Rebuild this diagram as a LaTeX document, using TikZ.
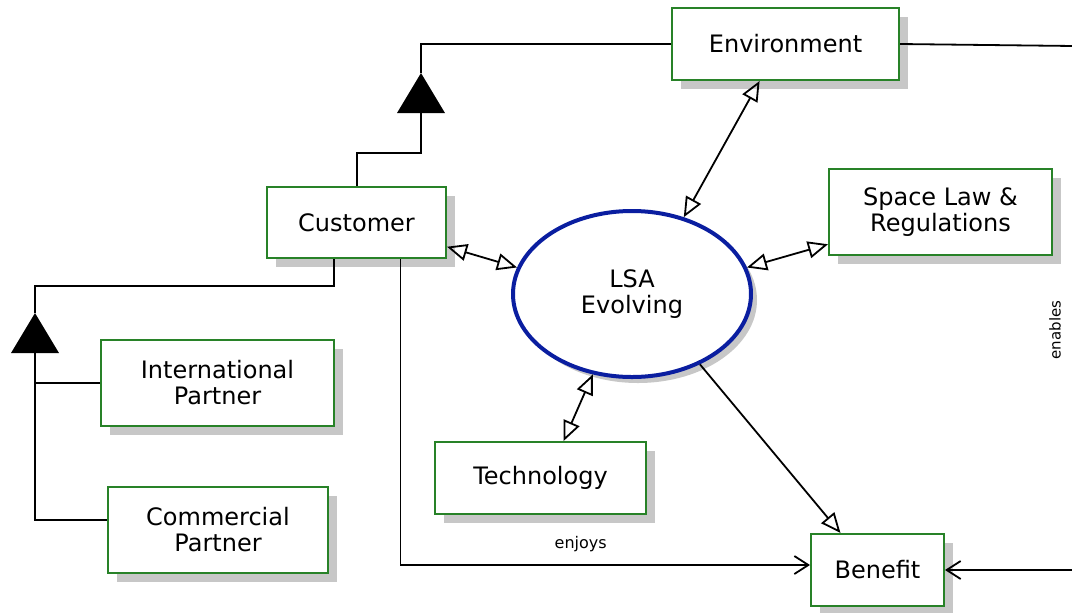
\documentclass[tikz,border=0pt]{standalone}
\usepackage{fontspec}
\setmainfont{DejaVu Sans}
\usetikzlibrary{shapes,shadows,arrows.meta}
\definecolor{boxgreen}{RGB}{40,130,40}
\definecolor{lsablue}{RGB}{10,30,160}

\begin{document}
\begin{tikzpicture}[x=0.5pt,y=-0.5pt,
	box/.style={draw=boxgreen,line width=1pt,fill=white,align=center,inner sep=0pt,
		font=\fontsize{12}{13}\selectfont,
		drop shadow={shadow xshift=4.5pt,shadow yshift=-4.5pt,fill=black!22,opacity=1}},
	lsa/.style={ellipse,draw=lsablue,line width=2pt,fill=white,align=center,inner sep=0pt,
		minimum width=119pt,minimum height=83pt,font=\fontsize{12}{13}\selectfont,
		drop shadow={shadow xshift=3pt,shadow yshift=-3pt,fill=black!22,opacity=1}},
	dbl/.style={line width=0.9pt,{Triangle[open,length=10pt,width=8.5pt]}-{Triangle[open,length=10pt,width=8.5pt]}},
	stick/.style={line width=0.9pt,-{Straight Barb[length=7pt,width=9pt]}},
	gen/.style={line width=1pt}]
			\useasboundingbox (0,0) rectangle (1072,612);
			\node[box,minimum width=113.5pt,minimum height=36pt] (env) at (785.5,44) {Environment};
			\node[box,minimum width=89.5pt,minimum height=35.5pt] (cust) at (356.5,222.5) {Customer};
			\node[box,minimum width=111.5pt,minimum height=43pt] (spl) at (940.5,212) {Space Law \&\\Regulations};
			\node[box,minimum width=116.5pt,minimum height=43pt] (intl) at (217.5,383) {International\\Partner};
			\node[box,minimum width=110pt,minimum height=43pt] (comm) at (218,530) {Commercial\\Partner};
			\node[box,minimum width=105.5pt,minimum height=36pt] (tech) at (540.5,478) {Technology};
			\node[box,minimum width=66.5pt,minimum height=36pt] (ben) at (877.5,570) {Benefit};
			\node[lsa] (lsa) at (632,294) {LSA\\Evolving};
			% generalisation: customer -> environment
			\coordinate (etop) at (421,73);
			\coordinate (ebase) at (421,113);
			\draw[gen] (env.west) -| (etop);
			\fill (etop) -- ++(-24,40) -- ++(48,0) -- cycle;
			\draw[gen] (ebase) -- ++(0,40) -| (cust.north);
			% generalisation: partners -> customer
			\coordinate (gtop) at (35,313);
			\coordinate (gbase) at (35,353);
			\draw[gen] ([xshift=-11.5pt]cust.south) -- ++(0,27) -| (gtop);
			\fill (gtop) -- ++(-24,40) -- ++(48,0) -- cycle;
			\draw[gen] (gbase) |- ([yshift=5pt]comm.west);
			\draw[gen] (intl.west) -| (gbase);
			% links to the LSA
			\draw[dbl] (cust.-15) -- (lsa.167);
			\draw[dbl] (env.235) -- (lsa.56);
			\draw[dbl] (spl.196) -- (lsa.13);
			\draw[dbl] (tech.58) -- (lsa.244);
			\draw[line width=0.9pt,-{Triangle[open,length=10pt,width=8.5pt]}] (lsa.-46) -- (ben.135);
			% enjoys / enables
			\draw[stick] ([xshift=22pt]cust.south) |- ([yshift=2.5pt]ben.west)
				node[pos=0.72,above=6pt,inner sep=0pt,font=\fontsize{8}{9}\selectfont] (enj) {enjoys};
			\coordinate (rc) at (1074,46);
			\draw[stick] (env.east) -- (rc) |- (ben.east);
			\node[rotate=90,inner sep=0pt,font=\fontsize{7.5}{9}\selectfont] (enb) at (1055,330) {enables};
\end{tikzpicture}
\end{document}
